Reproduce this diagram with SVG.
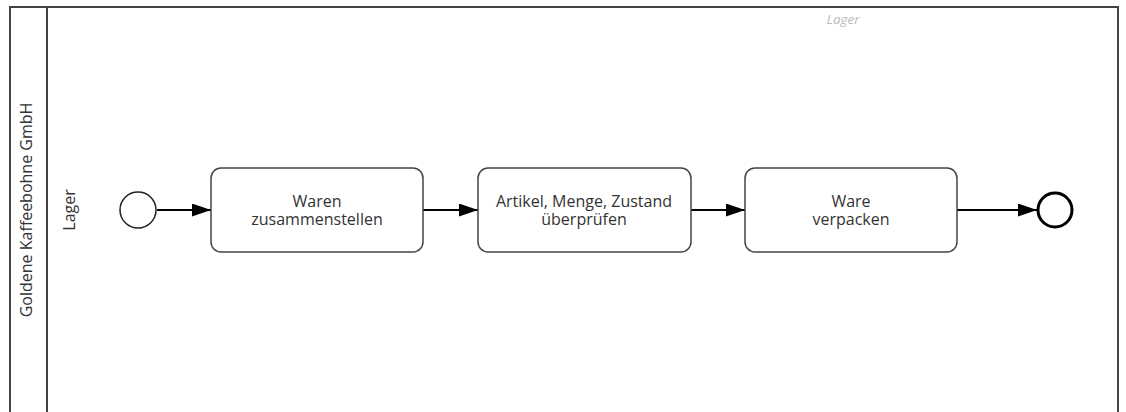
<svg xmlns="http://www.w3.org/2000/svg" width="1126" height="412" viewBox="0 0 1126 412">
  <style>
    .pool { fill: #ffffff; stroke: #444444; stroke-width: 2; }
    .task { fill: #ffffff; stroke: #444444; stroke-width: 1.5; }
    .label { font-family: "Open Sans", "Liberation Sans", sans-serif; font-size: 16px; fill: #333333; text-anchor: middle; }
    .flow { stroke: #000000; stroke-width: 2; fill: none; marker-end: url(#arrow); }
  </style>
  <defs>
    <marker id="arrow" markerWidth="19" markerHeight="13" refX="19" refY="6.5" orient="auto" markerUnits="userSpaceOnUse">
      <path d="M0,0 L19,6.5 L0,13 Z" fill="#000000"/>
    </marker>
  </defs>
  <rect width="1126" height="412" fill="#ffffff"/>

  <!-- pool and lane frame -->
  <g id="pool">
    <path class="pool" d="M10,420 L10,7 L1118,7 L1118,420"/>
    <line x1="47" y1="7" x2="47" y2="420" stroke="#444444" stroke-width="2"/>
    <text class="label" font-size="16.5" transform="translate(32,210) rotate(-90)">Goldene Kaffeebohne GmbH</text>
    <text class="label" transform="translate(75,210) rotate(-90)">Lager</text>
    <text x="843" y="24" font-family="'Open Sans', 'Liberation Sans', sans-serif" font-size="13.5" font-style="italic" fill="#bbbbbb" text-anchor="middle">Lager</text>
  </g>

  <!-- connectors -->
  <g id="connectors">
    <line class="flow" x1="157" y1="210" x2="211" y2="210"/>
    <line class="flow" x1="423" y1="210" x2="478" y2="210"/>
    <line class="flow" x1="691" y1="210" x2="745" y2="210"/>
    <line class="flow" x1="957" y1="210" x2="1037" y2="210"/>
  </g>

  <g id="start">
    <circle cx="138" cy="210" r="18" fill="#ffffff" stroke="#222222" stroke-width="1.5"/>
  </g>

  <g id="task1">
    <rect class="task" x="211" y="168" width="212" height="84" rx="10"/>
    <text class="label" x="317" y="207">Waren</text>
    <text class="label" x="317" y="225">zusammenstellen</text>
  </g>

  <g id="task2">
    <rect class="task" x="478" y="168" width="213" height="84" rx="10"/>
    <text class="label" x="584" y="207">Artikel, Menge, Zustand</text>
    <text class="label" x="584" y="225">überprüfen</text>
  </g>

  <g id="task3">
    <rect class="task" x="745" y="168" width="212" height="84" rx="10"/>
    <text class="label" x="851" y="207">Ware</text>
    <text class="label" x="851" y="225">verpacken</text>
  </g>

  <g id="end">
    <circle cx="1055" cy="210" r="17" fill="#ffffff" stroke="#000000" stroke-width="3"/>
  </g>
</svg>
